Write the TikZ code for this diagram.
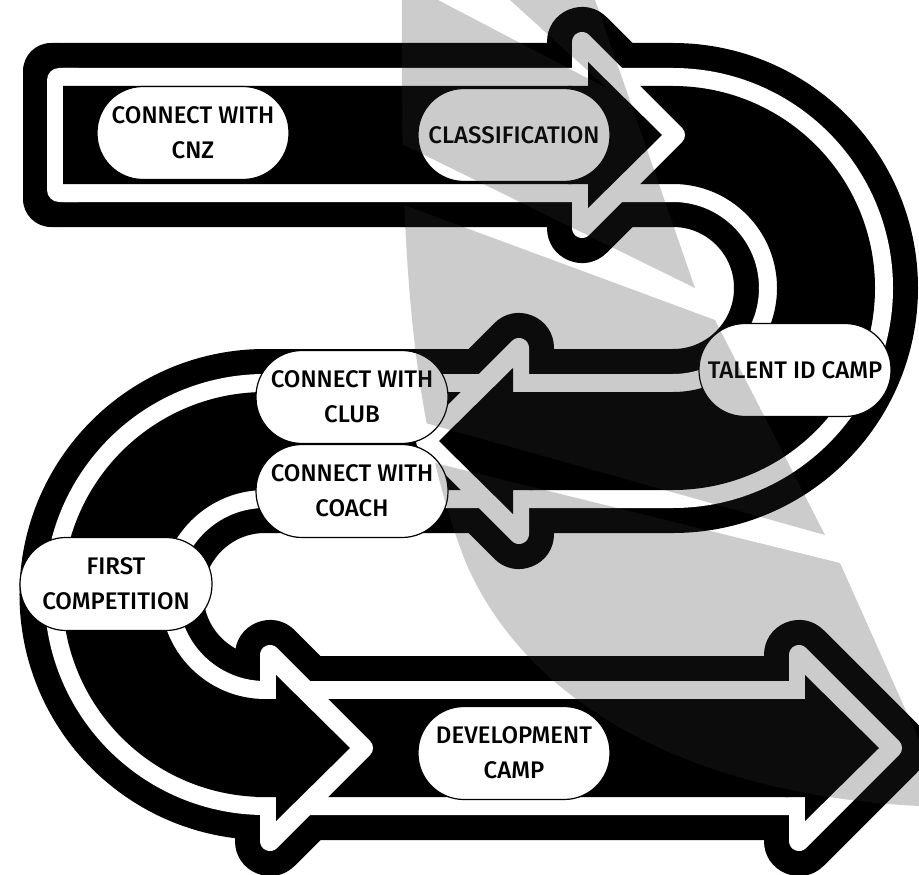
\documentclass[tikz,border=0pt]{standalone}
\usepackage{fontspec}
\setmainfont{Fira Sans}[UprightFont={* Medium}]

\begin{document}
\begin{tikzpicture}[x=1pt, y=-1pt,
    stage/.style={draw=black, line width=1.2pt, fill=white, rounded corners=46pt,
        minimum width=192pt, minimum height=93pt, inner sep=0pt, align=center,
        font=\fontsize{24}{35}\selectfont},
    logo/.style={fill=black!80, opacity=0.25}]

    % Fix the size of the picture (919 x 875, y grows downwards)
    \useasboundingbox (0,0) rectangle (919,875);

    % Centre line of the S-shaped road: three straight runs and two bends
    \def\road{(63,135) -- (673,135) arc[start angle=-90, end angle=90, radius=153]
        -- (265,441) arc[start angle=-90, end angle=-270, radius=153.5] -- (805,748)}

    % Arrowheads on the road: base x / centre y / direction
    \def\heads{588/135/1, 513/441/-1, 276/748/1, 805/748/1}

    % Outer black layer, with the rounded start of the road
    \fill[black, rounded corners=28pt] (23,43) rectangle (90,227);
    \draw[black, line width=184pt] \road;
    \foreach \xb/\yc/\dir in \heads
        \filldraw[black, line width=70pt, line join=round]
            (\xb-6*\dir,\yc-93) -- (\xb+87*\dir,\yc) -- (\xb-6*\dir,\yc+93) -- cycle;

    % White layer
    \fill[white, rounded corners=12pt] (47,68) rectangle (90,202);
    \draw[white, line width=134pt] \road;

    % Inner black layer
    \draw[black, line width=98pt] \road;

    % White rims and black points of the arrowheads
    \foreach \xb/\yc/\dir in \heads {
        \filldraw[white, line width=20pt, line join=round]
            (\xb-6*\dir,\yc-93) -- (\xb+87*\dir,\yc) -- (\xb-6*\dir,\yc+93) -- cycle;
        \fill[black] (\xb-20*\dir,\yc-49) -- (\xb,\yc-49) -- (\xb,\yc-73)
            -- (\xb+74*\dir,\yc) -- (\xb,\yc+73) -- (\xb,\yc+49)
            -- (\xb-20*\dir,\yc+49) -- cycle;
    }

    % The stages along the road
    \node[stage] (cnz) at (193,133) {CONNECT WITH\\CNZ};
    \node[stage] (classif) at (514,135) {CLASSIFICATION};
    \node[stage] (talent) at (795,370) {TALENT ID CAMP};
    \node[stage] (club) at (352,397) {CONNECT WITH\\CLUB};
    \node[stage] (coach) at (352,491) {CONNECT WITH\\COACH};
    \node[stage] (firstcomp) at (116,584) {FIRST\\COMPETITION};
    \node[stage] (devcamp) at (514,753) {DEVELOPMENT\\CAMP};

    % Grey logo laid over everything, cut by three white slashes
    \begin{scope}
        \clip (402,0) .. controls (400,250) and (410,420) .. (466,563)
            .. controls (530,710) and (700,795) .. (919,806) -- (919,0) -- cycle;
        \fill[logo] (300,0) -- (438,0) -- (608,89) -- (510,0) -- (595,0)
            -- (695,288) -- (404,145) -- (300,95) -- cycle;
        \fill[logo] (300,166) -- (404,205) -- (715,320) -- (825,535)
            -- (422,422) -- (300,388) -- cycle;
        \fill[logo] (300,429) -- (431,462) -- (840,563) -- (919,740)
            -- (919,875) -- (300,875) -- cycle;
    \end{scope}

\end{tikzpicture}
\end{document}
